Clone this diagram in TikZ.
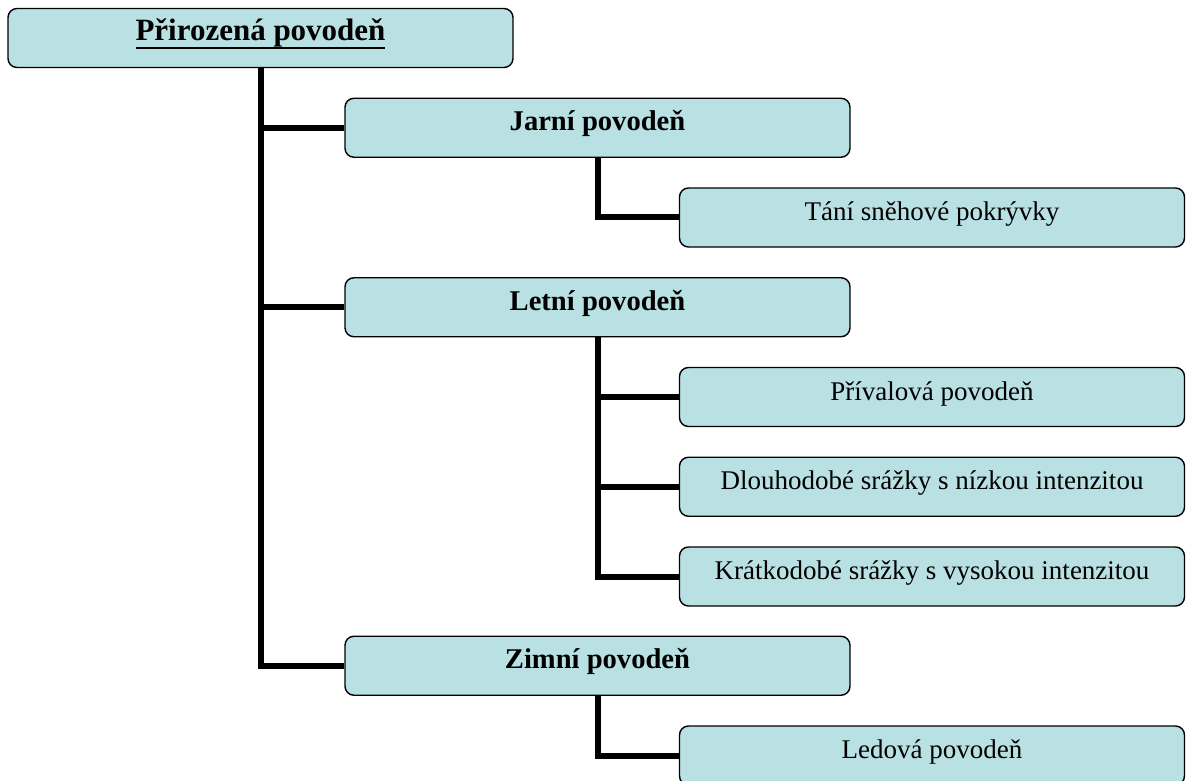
\documentclass[tikz,border=0pt]{standalone}
\usepackage{fontspec}
\setmainfont{Liberation Serif}
\usepackage{tikz}
\usetikzlibrary{positioning}

\definecolor{boxfill}{RGB}{185,224,227}

% podtrzeny text pod dotahy
\newcommand{\podtrh}[1]{\setbox0\hbox{#1}\rlap{\rule[-8.5pt]{\wd0}{2.6pt}}\box0}

\tikzset{
    uzel/.style={draw=black, line width=1.4pt, rounded corners=9pt, fill=boxfill,
        minimum width=505pt, inner sep=0pt, text height=32.5pt, text depth=26.5pt},
    koren/.style={uzel, font=\fontsize{31}{35}\selectfont\bfseries},
    druhy/.style={uzel, font=\fontsize{28.6}{32}\selectfont\bfseries},
    treti/.style={uzel, font=\fontsize{27}{31}\selectfont},
    spoj/.style={line width=6pt, black}
}

\begin{document}
\begin{tikzpicture}[node distance=89.75pt]
    \useasboundingbox (0,0) rectangle (1187pt,-781pt);

    \node (root) [koren] at (260.5pt,-38pt) {\podtrh{Přirozená povodeň}};

    \node (jarni) [druhy, below of=root, xshift=337pt] {Jarní povodeň};
    \node (tani) [treti, below of=jarni, xshift=334.5pt] {Tání sněhové pokrývky};

    \node (letni) [druhy, below of=jarni, node distance=179.5pt] {Letní povodeň};
    \node (prival) [treti, below of=tani, node distance=179.5pt] {Přívalová povodeň};
    \node (dlouho) [treti, below of=prival] {Dlouhodobé srážky s nízkou intenzitou};
    \node (kratko) [treti, below of=dlouho] {Krátkodobé srážky s vysokou intenzitou};

    \node (zimni) [druhy, below of=letni, node distance=358.5pt] {Zimní povodeň};
    \node (ledova) [treti, below of=zimni, xshift=334.5pt] {Ledová povodeň};

    \draw [spoj] (root.south) |- (jarni.west);
    \draw [spoj] (root.south) |- (letni.west);
    \draw [spoj] (root.south) |- (zimni.west);
    \draw [spoj] (jarni.south) |- (tani.west);
    \draw [spoj] (letni.south) |- (prival.west);
    \draw [spoj] (letni.south) |- (dlouho.west);
    \draw [spoj] (letni.south) |- (kratko.west);
    \draw [spoj] (zimni.south) |- (ledova.west);
\end{tikzpicture}
\end{document}
